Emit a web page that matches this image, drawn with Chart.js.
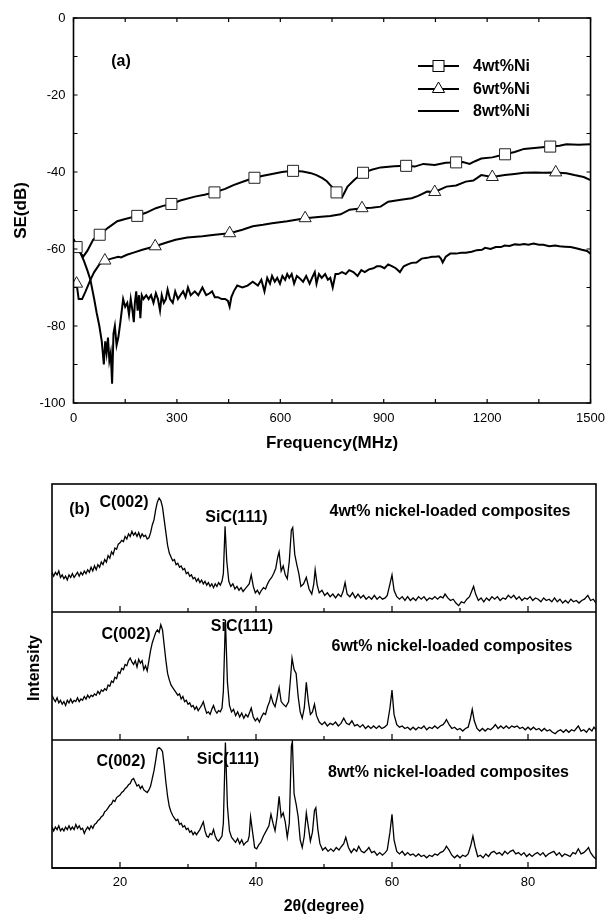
<!DOCTYPE html>
<html><head><meta charset="utf-8">
<script src="https://cdn.jsdelivr.net/npm/chart.js@4.4.1/dist/chart.umd.min.js"></script>
<style>
html,body{margin:0;padding:0;background:#fff;width:613px;height:916px;overflow:hidden}
#c1{position:absolute;left:0;top:0}
#c2{position:absolute;left:0;top:460px}
</style></head><body>
<canvas id="c1" width="613" height="460"></canvas>
<canvas id="c2" width="613" height="456"></canvas>
<script>
const FONT = "'Liberation Sans', Arial, Helvetica, sans-serif";

// ---------- Panel (a): shielding effectiveness ----------
const seLegend = ['4wt%Ni', '6wt%Ni', '8wt%Ni'];
const freqTicks = [0, 300, 600, 900, 1200, 1500];
const seTicks = [-100, -80, -60, -40, -20, 0];
const freqMinor = [0,150,300,450,600,750,900,1050,1200,1350,1500];
const seMinor = [-100,-90,-80,-70,-60,-50,-40,-30,-20,-10,0];

const se4 = [[0,-57.5],[9,-59.5],[20,-61],[28,-62],[40,-60.5],[57,-57.6],[76,-56.3],[100,-54.5],[127,-52.8],[150,-52.2],[185,-51.4],[210,-50.6],[239,-49.4],[260,-48.8],[284,-48.3],[310,-47.4],[352,-46.4],[380,-45.9],[409,-45.3],[440,-44.4],[464,-43.4],[495,-42.4],[525,-41.5],[550,-41],[576,-40.5],[605,-40],[637,-39.7],[665,-39.9],[689,-40.3],[705,-40.8],[722,-41.6],[735,-42.4],[745,-43.4],[755,-44.4],[763,-45.3],[772,-46.3],[779,-46.6],[787,-45.2],[795,-43.8],[815,-42],[840,-40.2],[865,-39.4],[891,-38.8],[930,-38.5],[965,-38.4],[990,-38.6],[1015,-37.9],[1048,-38.2],[1080,-37.6],[1110,-37.5],[1130,-37.4],[1149,-37.9],[1165,-37.2],[1183,-36.5],[1215,-36.2],[1252,-35.4],[1280,-34.8],[1307,-34],[1345,-33.7],[1383,-33.4],[1410,-33.2],[1430,-32.8],[1465,-32.9],[1500,-32.8]];
const mark4 = [9,76,185,284,409,525,637,763,840,965,1110,1252,1383];

const se6 = [[0,-70],[9,-69],[15,-73],[25,-73],[35,-71],[49,-68],[60,-66],[75,-64],[91,-63],[110,-62.5],[130,-62],[138,-62.2],[155,-61.5],[172,-61],[200,-60.2],[237,-59.3],[270,-58.3],[296,-57.6],[330,-57],[374,-56.7],[410,-56.3],[453,-55.9],[490,-55],[520,-54.1],[550,-53.7],[576,-53.3],[620,-52.8],[672,-52],[710,-51.7],[745,-51.4],[775,-51],[801,-49.8],[837,-49.4],[865,-49.3],[891,-49],[913,-47.7],[950,-47.2],[981,-46.8],[1000,-46.2],[1026,-45.1],[1048,-45.2],[1082,-43.8],[1110,-43.5],[1138,-42.5],[1160,-42.2],[1183,-40.8],[1215,-41.3],[1251,-40.8],[1280,-40.5],[1307,-40.2],[1340,-40.1],[1363,-40.2],[1399,-40.1],[1430,-40.3],[1453,-40.8],[1480,-41.3],[1500,-42.1]];
const mark6 = [9,91,237,453,672,837,1048,1215,1399];

const se8 = [[0,-57.5],[10,-59],[20,-61],[30,-63],[40,-65.5],[49,-68],[60,-73],[67,-76.5],[75,-80],[82,-84],[88,-90],[92,-84],[96,-87],[100,-83],[104,-89],[108,-87],[112,-95],[116,-82],[120,-80],[125,-85],[130,-83],[136,-79],[144,-73],[150,-75],[156,-74],[161,-77],[166,-73],[171,-76],[175,-79],[178,-74],[182,-71],[186,-76],[190,-72],[194,-78],[198,-72],[203,-73],[207,-72.5],[211,-72],[218,-73],[225,-72],[232,-74],[239,-71.5],[245,-73],[251,-76],[256,-72],[262,-74],[268,-73],[273,-70.5],[280,-73],[288,-74],[295,-71],[303,-73],[310,-72],[318,-71],[325,-72.5],[332,-70],[340,-72],[352,-71],[362,-72],[374,-70],[385,-72],[395,-71.5],[402,-71],[410,-72.5],[419,-72.5],[430,-73],[440,-73],[448,-73.5],[453,-75],[458,-72.5],[465,-71],[475,-69.5],[490,-70],[505,-69.5],[520,-68.5],[535,-69.5],[545,-68],[554,-71],[562,-67.5],[570,-69],[576,-67],[584,-68.5],[591,-67.5],[599,-69],[606,-67],[614,-68],[620,-66.5],[626,-67.5],[633,-66.5],[640,-69],[648,-67],[655,-67.5],[666,-68.5],[675,-67],[685,-69],[692,-67.5],[700,-66],[705,-69],[712,-66.5],[720,-67.5],[730,-66.5],[738,-68],[745,-67.5],[752,-70],[760,-66.5],[768,-66.5],[779,-66],[790,-66.5],[800,-65.5],[812,-66],[824,-67],[835,-65.5],[845,-66],[857,-65.3],[870,-65],[880,-64.5],[891,-64.5],[902,-65],[913,-64],[925,-64.5],[935,-65],[947,-66],[958,-64.5],[970,-64],[981,-63.6],[995,-63.5],[1010,-62.5],[1026,-62.3],[1040,-62],[1050,-62],[1060,-61.9],[1066,-62.5],[1071,-63.5],[1080,-62],[1093,-61.2],[1110,-61.2],[1125,-61],[1138,-61],[1155,-60.7],[1170,-60.3],[1185,-60.2],[1194,-59.7],[1210,-60],[1225,-59.5],[1240,-59.5],[1251,-59.1],[1265,-59.2],[1280,-58.8],[1295,-58.9],[1307,-58.7],[1320,-58.9],[1335,-58.6],[1350,-58.9],[1363,-58.9],[1380,-59.3],[1397,-59.1],[1410,-59.3],[1425,-59.4],[1442,-59.5],[1458,-59.8],[1475,-60.2],[1490,-60.5],[1500,-61.2]];

// ---------- Panel (b): XRD ----------
const xrdLabels = ['4wt% nickel-loaded composites', '6wt% nickel-loaded composites', '8wt% nickel-loaded composites'];
const peakLabels = ['C(002)', 'SiC(111)'];
const thetaTicks = [20, 40, 60, 80];
const thetaMinor = [30, 50, 70];

const xrd4 = [[10.00,31],[10.25,28],[10.50,31],[10.75,29],[11.00,32],[11.25,27],[11.50,29],[11.75,26],[12.00,28],[12.25,25],[12.50,29],[12.75,27],[13.00,30],[13.25,27],[13.50,29],[13.75,31],[14.00,28],[14.25,31],[14.50,29],[14.75,32],[15.00,30],[15.25,33],[15.50,31],[15.75,35],[16.00,32],[16.25,36],[16.50,33],[16.75,37],[17.00,35],[17.25,39],[17.50,37],[17.75,41],[18.00,39],[18.25,44],[18.50,42],[18.75,47],[19.00,45],[19.25,50],[19.50,49],[19.75,53],[20.00,54],[20.25,56],[20.50,55],[20.75,59],[21.00,57],[21.25,61],[21.50,59],[21.75,63],[22.00,60],[22.25,62],[22.50,59],[22.75,62],[23.00,58],[23.25,61],[23.50,59],[23.75,60],[24.00,57],[24.25,58],[24.50,62],[24.75,68],[25.00,72],[25.25,80],[25.50,86],[25.75,89],[26.00,87],[26.25,82],[26.50,72],[26.75,62],[27.00,52],[27.25,46],[27.50,43],[27.75,40],[28.00,41],[28.25,37],[28.50,38],[28.75,35],[29.00,36],[29.25,33],[29.50,34],[29.75,30],[30.00,31],[30.25,28],[30.50,29],[30.75,26],[31.00,27],[31.25,24],[31.50,26],[31.75,23],[32.00,25],[32.25,22],[32.50,24],[32.75,21],[33.00,23],[33.25,20],[33.50,22],[33.75,19],[34.00,22],[34.25,20],[34.50,23],[34.75,21],[35.00,24],
[35.2,30],[35.45,67],[35.7,40],[36.0,24],[36.3,20],[36.6,22],[36.9,18],[37.2,20],[37.5,17],[37.8,19],[38.1,16],[38.4,18],[38.7,20],[39.0,22],[39.3,29],[39.6,20],[39.9,15],[40.2,17],[40.5,14],[40.8,17],[41.1,19],[41.4,18],[41.7,22],[42.0,25],[42.3,27],[42.6,30],[42.9,34],[43.2,43],[43.4,47],[43.7,32],[44.0,36],[44.3,29],[44.6,26],[44.9,40],[45.2,64],[45.4,66],[45.7,45],[46.0,37],[46.3,30],[46.6,20],[47.0,22],[47.4,27],[47.8,18],[48.2,14],[48.5,22],[48.7,33],[49.0,21],[49.3,15],[49.7,17],[50.1,13],[50.5,15],[50.9,12],[51.3,14],[51.7,11],[52.1,14],[52.5,12],[52.8,16],[53.1,23],[53.4,14],[53.8,12],[54.2,15],[54.6,11],[55.0,14],[55.4,11],[55.8,13],[56.2,10],[56.6,12],[57.0,10],[57.4,13],[57.8,10],[58.2,12],[58.6,10],[59.0,11],[59.3,13],[59.7,22],[60.0,29],[60.3,17],[60.7,12],[61.1,10],[61.5,12],[61.9,9],[62.3,12],[62.7,9],[63.1,11],[63.5,9],[63.9,12],[64.3,10],[64.7,12],[65.1,9],[65.5,11],[65.9,10],[66.3,12],[66.7,10],[67.1,12],[67.5,11],[67.8,14],[68.2,11],[68.6,9],[69.0,10],[69.4,7],[69.8,5],[70.2,8],[70.6,7],[71.0,10],[71.4,12],[71.7,16],[72.0,20],[72.3,14],[72.7,9],[73.1,11],[73.5,8],[73.9,11],[74.3,9],[74.7,12],[75.1,10],[75.5,12],[75.9,9],[76.3,11],[76.7,10],[77.1,13],[77.5,11],[77.9,13],[78.3,10],[78.7,12],[79.1,9],[79.5,11],[79.9,10],[80.3,12],[80.7,9],[81.1,11],[81.5,10],[81.9,8],[82.3,11],[82.7,9],[83.1,10],[83.5,8],[83.9,11],[84.3,8],[84.7,10],[85.1,7],[85.5,9],[85.9,7],[86.3,10],[86.7,8],[87.1,9],[87.5,7],[87.9,9],[88.3,10],[88.8,13],[89.2,9],[89.6,10],[90.0,7]];

const xrd6 = [[10.00,35],[10.25,32],[10.50,30],[10.75,33],[11.00,29],[11.25,31],[11.50,28],[11.75,30],[12.00,27],[12.25,31],[12.50,29],[12.75,32],[13.00,29],[13.25,31],[13.50,30],[13.75,33],[14.00,30],[14.25,32],[14.50,31],[14.75,34],[15.00,32],[15.25,35],[15.50,33],[15.75,35],[16.00,34],[16.25,36],[16.50,35],[16.75,38],[17.00,36],[17.25,39],[17.50,38],[17.75,40],[18.00,39],[18.25,43],[18.50,42],[18.75,46],[19.00,45],[19.25,49],[19.50,48],[19.75,53],[20.00,52],[20.25,56],[20.50,55],[20.75,59],[21.00,58],[21.25,62],[21.50,64],[21.75,61],[22.00,59],[22.25,62],[22.50,57],[22.75,63],[23.00,60],[23.25,62],[23.50,55],[23.75,58],[24.00,54],[24.25,62],[24.50,70],[24.75,76],[25.00,80],[25.25,84],[25.50,86],[25.75,84],[26.00,90],[26.25,86],[26.50,74],[26.75,62],[27.00,52],[27.25,47],[27.50,43],[27.75,41],[28.00,39],[28.25,37],[28.50,35],[28.75,36],[29.00,32],[29.25,34],[29.50,30],[29.75,31],[30.00,28],[30.25,29],[30.50,26],[30.75,27],[31.00,24],[31.25,26],[31.50,23],[31.75,25],[32.00,27],[32.25,30],[32.50,25],[32.75,21],[33.00,22],[33.25,20],[33.50,24],[33.75,27],[34.00,23],[34.25,21],[34.50,23],[34.75,22],[35.00,25],
[35.2,38],[35.5,94],[35.8,45],[36.1,27],[36.4,22],[36.7,24],[37.0,19],[37.3,22],[37.6,18],[37.9,21],[38.2,17],[38.5,20],[38.8,18],[39.1,22],[39.3,25],[39.6,18],[39.9,15],[40.2,17],[40.5,14],[40.8,18],[41.1,21],[41.4,20],[41.7,26],[42.0,30],[42.2,35],[42.5,29],[42.8,26],[43.1,33],[43.4,41],[43.7,30],[44.0,28],[44.4,26],[44.8,30],[45.1,50],[45.3,64],[45.6,55],[45.9,52],[46.2,34],[46.5,22],[46.8,17],[47.1,25],[47.4,45],[47.7,30],[48.0,20],[48.3,22],[48.6,28],[48.9,19],[49.3,14],[49.7,12],[50.1,14],[50.5,11],[50.9,13],[51.3,12],[51.7,14],[52.1,11],[52.5,13],[52.9,17],[53.3,13],[53.7,12],[54.1,15],[54.5,11],[54.9,12],[55.3,10],[55.7,12],[56.1,9],[56.5,11],[56.9,9],[57.3,11],[57.7,9],[58.1,11],[58.5,9],[58.9,10],[59.3,12],[59.7,25],[60.0,39],[60.3,20],[60.7,12],[61.1,10],[61.5,11],[61.9,9],[62.3,10],[62.7,8],[63.1,10],[63.5,8],[63.9,10],[64.3,9],[64.7,11],[65.1,8],[65.5,10],[65.9,9],[66.3,11],[66.7,9],[67.1,11],[67.5,12],[67.8,14],[68.0,16],[68.4,12],[68.8,9],[69.2,10],[69.6,8],[70.0,9],[70.4,7],[70.8,9],[71.2,10],[71.5,16],[71.8,24],[72.1,15],[72.5,9],[72.9,7],[73.3,9],[73.7,7],[74.1,9],[74.5,8],[74.9,10],[75.2,12],[75.6,9],[76.0,11],[76.4,9],[76.8,11],[77.2,9],[77.6,11],[78.0,10],[78.4,11],[78.8,9],[79.2,10],[79.6,8],[80.0,10],[80.4,8],[80.8,10],[81.2,8],[81.6,9],[82.0,7],[82.4,9],[82.8,7],[83.2,8],[83.6,6],[84.0,5],[84.4,7],[84.8,8],[85.2,6],[85.6,8],[86.0,6],[86.4,8],[86.8,7],[87.1,9],[87.4,11],[87.8,7],[88.2,8],[88.6,6],[89.0,9],[89.4,7],[89.7,10],[90.0,8]];

const xrd8 = [[10.00,32],[10.25,29],[10.50,32],[10.75,30],[11.00,33],[11.25,29],[11.50,31],[11.75,29],[12.00,32],[12.25,30],[12.50,33],[12.75,30],[13.00,32],[13.25,30],[13.50,34],[13.75,31],[14.00,33],[14.25,30],[14.50,31],[14.75,27],[15.00,30],[15.25,32],[15.50,30],[15.75,33],[16.00,31],[16.25,34],[16.50,35],[16.75,37],[17.00,38],[17.25,40],[17.50,41],[17.75,44],[18.00,45],[18.25,47],[18.50,49],[18.75,50],[19.00,53],[19.25,52],[19.50,55],[19.75,56],[20.00,57],[20.25,59],[20.50,60],[20.75,62],[21.00,63],[21.25,65],[21.50,66],[21.75,69],[22.00,70],[22.25,67],[22.50,64],[22.75,65],[23.00,62],[23.25,64],[23.50,61],[23.75,60],[24.00,59],[24.25,61],[24.50,64],[24.75,70],[25.00,76],[25.25,84],[25.50,93],[25.75,94],[26.00,93],[26.25,91],[26.50,80],[26.75,67],[27.00,56],[27.25,48],[27.50,44],[27.75,41],[28.00,39],[28.25,37],[28.50,38],[28.75,34],[29.00,35],[29.25,32],[29.50,33],[29.75,30],[30.00,31],[30.25,28],[30.50,29],[30.75,26],[31.00,28],[31.25,26],[31.50,28],[31.75,30],[32.00,33],[32.25,36],[32.50,29],[32.75,25],[33.00,24],[33.25,27],[33.50,26],[33.75,30],[34.00,25],[34.25,22],[34.50,21],[34.75,23],[35.00,25],
[35.2,35],[35.5,98],[35.8,48],[36.1,29],[36.4,24],[36.7,22],[37.0,20],[37.3,23],[37.6,19],[37.9,22],[38.2,18],[38.5,20],[38.8,21],[39.0,25],[39.2,40],[39.5,28],[39.8,16],[40.1,15],[40.4,18],[40.7,20],[41.1,25],[41.5,29],[41.9,33],[42.2,42],[42.5,35],[42.8,29],[43.1,40],[43.4,56],[43.7,40],[44.0,43],[44.3,36],[44.6,24],[44.9,35],[45.2,95],[45.35,99],[45.6,58],[45.9,50],[46.2,40],[46.5,22],[46.8,16],[47.1,25],[47.4,43],[47.7,32],[48.0,21],[48.3,28],[48.6,45],[48.8,47],[49.1,30],[49.4,19],[49.8,14],[50.2,16],[50.6,13],[51.0,15],[51.4,13],[51.8,16],[52.2,14],[52.6,17],[52.9,19],[53.2,24],[53.6,16],[54.0,12],[54.4,15],[54.8,13],[55.1,17],[55.5,13],[55.9,12],[56.3,14],[56.6,16],[57.0,12],[57.4,13],[57.8,10],[58.2,12],[58.6,10],[59.0,12],[59.3,14],[59.7,28],[60.0,42],[60.3,22],[60.7,13],[61.1,11],[61.5,13],[61.9,10],[62.3,12],[62.7,10],[63.1,11],[63.5,9],[63.9,11],[64.3,9],[64.7,10],[65.1,8],[65.5,10],[65.9,9],[66.3,11],[66.7,10],[67.1,12],[67.5,13],[67.8,15],[68.0,17],[68.4,14],[68.8,10],[69.2,8],[69.6,10],[70.0,8],[70.4,10],[70.8,9],[71.2,11],[71.6,18],[71.9,25],[72.2,17],[72.6,9],[73.0,10],[73.4,8],[73.8,11],[74.2,9],[74.6,12],[75.0,13],[75.4,11],[75.8,12],[76.2,10],[76.6,13],[77.0,11],[77.4,13],[77.8,14],[78.2,11],[78.6,12],[79.0,10],[79.4,12],[79.8,9],[80.2,11],[80.6,9],[81.0,11],[81.4,12],[81.8,10],[82.2,12],[82.6,9],[83.0,11],[83.4,12],[83.8,13],[84.2,10],[84.6,12],[85.0,9],[85.4,11],[85.8,10],[86.2,9],[86.6,12],[87.0,11],[87.4,15],[87.8,11],[88.2,12],[88.6,14],[88.9,16],[89.2,12],[89.6,9],[90.0,7]];

const toXY = arr => arr.map(p => ({x: p[0], y: p[1]}));

// ---------- Chart (a) ----------
const frameA = {
  id: 'frameA',
  afterDatasetsDraw(chart) {
    const {ctx, chartArea: a, scales: {x, y}} = chart;
    ctx.save();
    ctx.strokeStyle = '#000';
    ctx.lineWidth = 1.2;
    ctx.beginPath();
    freqMinor.forEach(v => {
      const px = x.getPixelForValue(v);
      ctx.moveTo(px, a.bottom); ctx.lineTo(px, a.bottom - 4);
      ctx.moveTo(px, a.top); ctx.lineTo(px, a.top + 4);
    });
    seMinor.forEach(v => {
      const py = y.getPixelForValue(v);
      ctx.moveTo(a.left, py); ctx.lineTo(a.left + 4, py);
      ctx.moveTo(a.right, py); ctx.lineTo(a.right - 4, py);
    });
    ctx.stroke();
    ctx.lineWidth = 1.6;
    ctx.strokeRect(a.left, a.top, a.right - a.left, a.bottom - a.top);

    ctx.fillStyle = '#000';
    ctx.textBaseline = 'middle';
    ctx.textAlign = 'center';
    ctx.font = 'bold 16px ' + FONT;
    ctx.fillText('(a)', 121, 62);
    ctx.font = 'bold 17px ' + FONT;
    ctx.fillText('Frequency(MHz)', (a.left + a.right) / 2, 443);
    ctx.save();
    ctx.translate(21, (a.top + a.bottom) / 2);
    ctx.rotate(-Math.PI / 2);
    ctx.fillText('SE(dB)', 0, 0);
    ctx.restore();

    const rows = [66, 89, 111];
    ctx.font = 'bold 16px ' + FONT;
    ctx.textAlign = 'left';
    rows.forEach((ry, i) => {
      ctx.lineWidth = 2;
      ctx.beginPath(); ctx.moveTo(418, ry); ctx.lineTo(459, ry); ctx.stroke();
      ctx.lineWidth = 1;
      if (i === 0) {
        ctx.fillStyle = '#fff'; ctx.fillRect(433, ry - 5.5, 11, 11);
        ctx.strokeRect(433, ry - 5.5, 11, 11);
      } else if (i === 1) {
        ctx.beginPath(); ctx.moveTo(438.5, ry - 7); ctx.lineTo(444.6, ry + 3.5); ctx.lineTo(432.4, ry + 3.5); ctx.closePath();
        ctx.fillStyle = '#fff'; ctx.fill(); ctx.stroke();
      }
      ctx.fillStyle = '#000';
      ctx.fillText(seLegend[i], 473, ry + 1);
    });
    ctx.restore();
  }
};

new Chart(document.getElementById('c1'), {
  type: 'line',
  data: {
    datasets: [
      {label: seLegend[0], data: toXY(se4), borderColor: '#000', borderWidth: 2, tension: 0,
       pointStyle: 'rect', pointBackgroundColor: '#fff', pointBorderColor: '#222', pointBorderWidth: 1,
       pointRadius: c => (c.raw && mark4.includes(c.raw.x)) ? 7.8 : 0},
      {label: seLegend[1], data: toXY(se6), borderColor: '#000', borderWidth: 2, tension: 0,
       pointStyle: 'triangle', pointBackgroundColor: '#fff', pointBorderColor: '#222', pointBorderWidth: 1,
       pointRadius: c => (c.raw && mark6.includes(c.raw.x)) ? 7 : 0},
      {label: seLegend[2], data: toXY(se8), borderColor: '#000', borderWidth: 2, tension: 0, pointRadius: 0}
    ]
  },
  options: {
    responsive: false, animation: false, devicePixelRatio: 1, events: [],
    layout: {padding: {left: 0, right: 18, top: 18, bottom: 0}},
    plugins: {legend: {display: false}, tooltip: {enabled: false}},
    scales: {
      x: {type: 'linear', min: 0, max: 1500,
          afterBuildTicks: s => { s.ticks = freqTicks.map(v => ({value: v})); },
          afterFit: s => { s.height = 57; },
          ticks: {color: '#000', font: {family: FONT, size: 13}, padding: 8, maxRotation: 0, autoSkip: false, callback: v => String(v)},
          grid: {display: false, drawTicks: false}, border: {display: false}},
      y: {type: 'linear', min: -100, max: 0,
          afterBuildTicks: s => { s.ticks = seTicks.map(v => ({value: v})); },
          afterFit: s => { s.width = 73.5; },
          ticks: {color: '#000', font: {family: FONT, size: 13}, padding: 8, autoSkip: false, callback: v => String(v)},
          grid: {display: false, drawTicks: false}, border: {display: false}}
    }
  },
  plugins: [frameA]
});

// ---------- Chart (b) ----------
const frameB = {
  id: 'frameB',
  afterDatasetsDraw(chart) {
    const {ctx, chartArea: a, scales} = chart;
    const x = scales.x;
    const panels = [scales.yA, scales.yB, scales.yC];
    ctx.save();
    ctx.strokeStyle = '#000';
    ctx.lineWidth = 1.2;
    ctx.beginPath();
    panels.forEach(p => {
      thetaTicks.forEach(v => { const px = x.getPixelForValue(v); ctx.moveTo(px, p.bottom); ctx.lineTo(px, p.bottom - 6); });
      thetaMinor.forEach(v => { const px = x.getPixelForValue(v); ctx.moveTo(px, p.bottom); ctx.lineTo(px, p.bottom - 4); });
    });
    ctx.stroke();
    ctx.lineWidth = 1.6;
    ctx.beginPath();
    panels.forEach(p => { ctx.moveTo(a.left, p.bottom); ctx.lineTo(a.right, p.bottom); });
    ctx.stroke();
    ctx.strokeRect(a.left, a.top, a.right - a.left, a.bottom - a.top);

    ctx.fillStyle = '#000';
    ctx.textBaseline = 'middle';
    ctx.textAlign = 'center';
    ctx.font = 'bold 16px ' + FONT;
    const t = panels.map(p => p.top);
    ctx.fillText('(b)', 79.5, t[0] + 26);
    ctx.fillText(peakLabels[0], 124, t[0] + 19);
    ctx.fillText(peakLabels[1], 236.5, t[0] + 34);
    ctx.fillText(xrdLabels[0], 450, t[0] + 28);
    ctx.fillText(peakLabels[0], 126, t[1] + 23);
    ctx.fillText(peakLabels[1], 242, t[1] + 15);
    ctx.fillText(xrdLabels[1], 452, t[1] + 35);
    ctx.fillText(peakLabels[0], 121, t[2] + 22);
    ctx.fillText(peakLabels[1], 228, t[2] + 20);
    ctx.fillText(xrdLabels[2], 448.5, t[2] + 33);

    ctx.fillText('2θ(degree)', (a.left + a.right) / 2, 447);
    ctx.save();
    ctx.translate(35, (a.top + a.bottom) / 2 - 8);
    ctx.rotate(-Math.PI / 2);
    ctx.fillText('Intensity', 0, 0);
    ctx.restore();
    ctx.restore();
  }
};

const yPanel = (w) => ({
  type: 'linear', position: 'left', stack: 'xrd', stackWeight: 1, weight: w, min: 0, max: 100,
  afterFit: s => { s.width = 52; },
  ticks: {display: false}, grid: {display: false, drawTicks: false}, border: {display: false}
});

new Chart(document.getElementById('c2'), {
  type: 'line',
  data: {
    datasets: [
      {label: xrdLabels[0], data: toXY(xrd4), yAxisID: 'yA', borderColor: '#000', borderWidth: 1.3, pointRadius: 0, tension: 0},
      {label: xrdLabels[1], data: toXY(xrd6), yAxisID: 'yB', borderColor: '#000', borderWidth: 1.3, pointRadius: 0, tension: 0},
      {label: xrdLabels[2], data: toXY(xrd8), yAxisID: 'yC', borderColor: '#000', borderWidth: 1.3, pointRadius: 0, tension: 0}
    ]
  },
  options: {
    responsive: false, animation: false, devicePixelRatio: 1, events: [],
    layout: {padding: {left: 0, right: 17, top: 24, bottom: 0}},
    plugins: {legend: {display: false}, tooltip: {enabled: false}},
    scales: {
      x: {type: 'linear', min: 10, max: 90,
          afterBuildTicks: s => { s.ticks = thetaTicks.map(v => ({value: v})); },
          afterFit: s => { s.height = 48; },
          ticks: {color: '#000', font: {family: FONT, size: 13}, padding: 7, maxRotation: 0, autoSkip: false, callback: v => String(v)},
          grid: {display: false, drawTicks: false}, border: {display: false}},
      yA: yPanel(3),
      yB: yPanel(2),
      yC: yPanel(1)
    }
  },
  plugins: [frameB]
});
</script>
</body></html>
